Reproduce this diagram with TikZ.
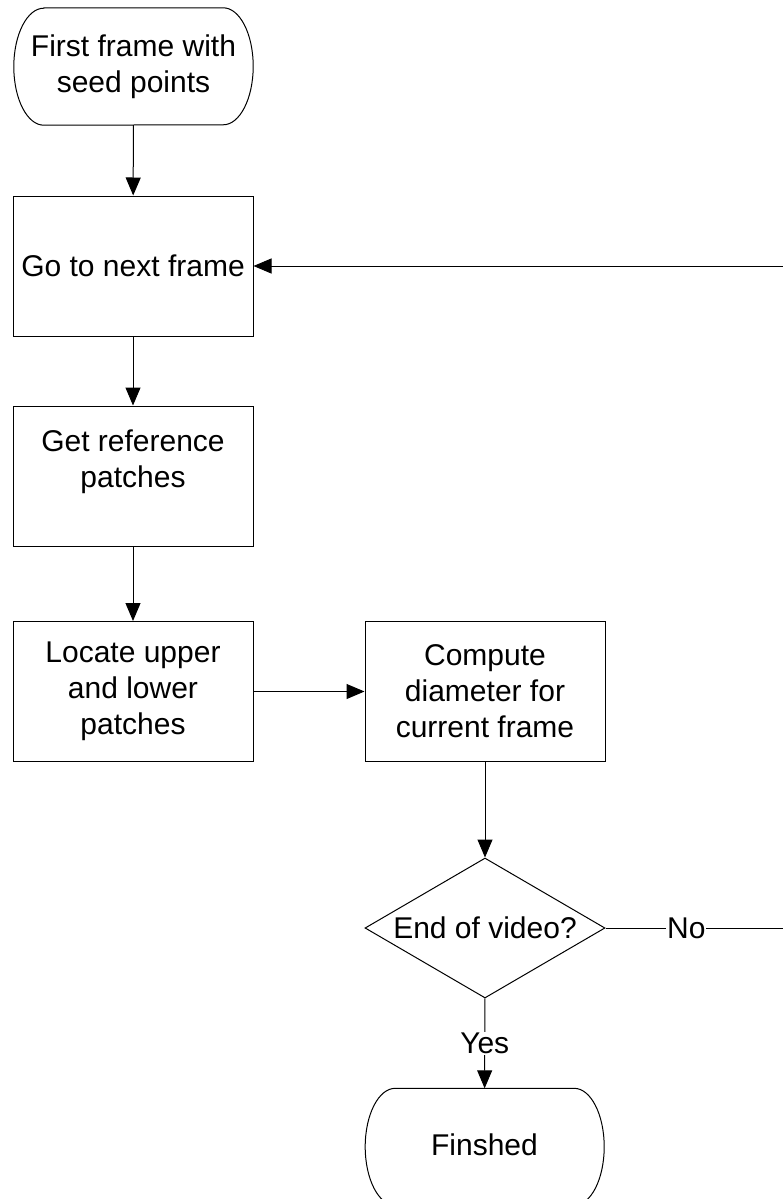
\documentclass[tikz,border=0pt]{standalone}
\usepackage{fontspec}
\setmainfont{Liberation Sans}
\usetikzlibrary{arrows.meta,shapes.geometric}
\begin{document}
\begin{tikzpicture}[x=1pt,y=-1pt,
  every node/.style={font=\fontsize{30}{36}\selectfont, align=center, inner sep=0pt},
  proc/.style={draw, line width=1pt, minimum width=240pt, minimum height=140pt},
  term/.style={minimum width=239pt, minimum height=117pt},
  dec/.style={draw, line width=1pt, diamond, aspect=1.714, minimum width=240pt, minimum height=140pt},
  conn/.style={line width=1pt},
  arr/.style={conn, -{Triangle[length=18pt,width=15pt]}},
  lbl/.style={fill=white, inner sep=1pt}]
\useasboundingbox (0,0) rectangle (783,1199);
\node[term] (start) at (133.5,66.5) {First frame with\\seed points};
\node[proc] (goto) at (133,266) {Go to next frame};
\node[proc] (ref) at (133,476) {Get reference\\patches\\[-12pt]\strut};
\node[proc] (loc) at (133,691.5) {Locate upper\\and lower\\patches};
\node[proc] (comp) at (485,691.5) {Compute\\diameter for\\current frame};
\node[dec] (dia) at (485,928) {End of video?};
\node[term, minimum height=113pt] (fin) at (484.5,1145) {Finshed};
% terminator outlines
\draw[line width=1pt] ([xshift=30pt]start.north west) -- ([xshift=-30pt]start.north east)
    arc[start angle=90, end angle=-90, x radius=30pt, y radius=58.5pt]
    -- ([xshift=30pt]start.south west)
    arc[start angle=270, end angle=90, x radius=30pt, y radius=58.5pt] -- cycle;
\draw[line width=1pt] ([xshift=30pt]fin.north west) -- ([xshift=-30pt]fin.north east)
    arc[start angle=90, end angle=-90, x radius=30pt, y radius=58.5pt]
    -- ++(-179pt,0)
    arc[start angle=270, end angle=90, x radius=30pt, y radius=58.5pt] -- cycle;
\draw[arr] (start) -- (goto);
\draw[arr] (goto) -- (ref);
\draw[arr] (ref) -- (loc);
\draw[arr] (loc) -- (comp);
\draw[arr] (comp) -- (dia);
\draw[arr] (dia) -- node[lbl] {Yes} (fin);
\coordinate (c1) at (810,928);
\coordinate (c2) at (810,266);
\draw[conn] (dia.east) -- node[lbl, pos=0.395] {No} (c1) -- (c2);
\draw[arr] (c2) -- (goto.east);
\end{tikzpicture}
\end{document}
